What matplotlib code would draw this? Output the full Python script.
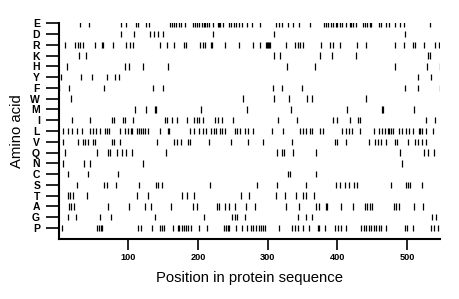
import matplotlib
matplotlib.use("Agg")
import matplotlib.pyplot as plt

plt.rcParams['font.family'] = ['Liberation Sans', 'DejaVu Sans']

amino_acids = ["E", "D", "R", "K", "H", "Y", "F", "W", "M", "I",
               "L", "V", "Q", "N", "C", "S", "T", "A", "G", "P"]

pos_E = [30.6, 43.5, 89.4, 96, 110.8, 114.2, 126, 129.6, 160, 162.7, 165.5, 169, 172, 175.5, 181,
         192.5, 195, 198, 201.7, 205.5, 208, 210, 212.7, 216, 221, 228, 230, 232, 235.5, 245, 248,
         251.5, 255, 259, 263.4, 269.6, 276.8, 288.7, 311.6, 316.4, 319.8, 329.4, 336.6, 345, 361.3,
         380.5, 383.4, 386.7, 391.5, 393.9, 397.7, 399.6, 403.4, 407.2, 412, 417.7, 420, 422.6, 426.4,
         436.9, 439.3, 442.6, 446.4, 448.8, 459.8, 463.2, 470.4, 474.2, 482.3, 489.5, 495.2, 532.4]
pos_D = [90, 108.5, 131, 136.6, 142.8, 150, 222, 309, 496.6]
pos_R = [9.6, 24, 28, 31, 35, 51.6, 62, 64, 78.4, 96.6, 102, 106, 145, 156, 166, 180, 182.6,
         202.7, 206.5, 210, 218, 220, 238.5, 259, 279, 289.5, 297, 298.7, 300, 301.7, 303, 326,
         339.4, 344, 346, 350.8, 377, 390, 394, 403.4, 428, 440.7, 482.8, 495, 508.6, 511.5, 525,
         540, 546]
pos_K = [29.6, 39, 309, 317, 374.6, 392, 427, 530, 532.6]
pos_H = [11.5, 94.6, 100.4, 121.4, 157, 327, 368, 482.8, 528.7, 546.8]
pos_Y = [3, 32, 47.8, 68.8, 80.8, 86, 515.8, 535]
pos_F = [1, 14.8, 65.5, 135.8, 150, 307, 320, 349, 497.6, 515.8, 546.8]
pos_W = [18, 265, 309, 330, 356.6, 364, 440.7]
pos_M = [110, 125, 138.6, 139.6, 203.6, 270.5, 333.6, 414.4, 464.6, 465.6, 509.5]
pos_I = [18.6, 45, 76, 80, 91.8, 95, 106, 152.5, 156, 162, 170, 183.6, 194.5, 198, 201, 207,
         225, 229, 235, 250, 315, 342, 394, 400, 418, 429, 432, 527, 540]
pos_L = [6.7, 13.9, 19.6, 26.3, 33, 45.4, 48.8, 53, 59.3, 66.4, 69.8, 72.7, 88.4, 95, 99, 103.7,
         105.6, 112, 115, 118, 121.4, 123.8, 128.6, 145.3, 156.3, 158.2, 188.3, 194.5, 201.2,
         206.5, 211.3, 218.4, 222.3, 226, 231.3, 234.6, 238.5, 252.8, 256.6, 260.4, 267, 271.8,
         279, 305.5, 322, 347, 350.8, 354.7, 360.4, 363.3, 374.8, 379.5, 407, 413, 416.8, 421.6,
         432, 452, 459.8, 464.6, 468, 472.3, 474, 477, 479.8, 488.4, 492.3, 499, 502.7, 508.6,
         517.2, 519, 522, 527.7, 537]
pos_V = [6.7, 28.2, 35.4, 37.8, 42.6, 49.8, 52, 76, 79.8, 88.4, 141, 166, 169.7, 175.5, 186, 188,
         215.6, 246.7, 272, 293.5, 334.6, 396.3, 399.6, 413, 445.5, 453.6, 458.4, 463.2, 470.4,
         482.8, 485.6, 501.4, 511, 515.8, 522, 527.7]
pos_Q = [9, 54.5, 71.2, 73.6, 83.2, 90.3, 96, 104.7, 154, 313.6, 319.8, 322.7, 335.6, 370,
         490.4, 523.9, 530.6, 538.2]
pos_N = [6.7, 36.8, 45, 120.5, 493.4]
pos_C = [12.9, 42.6, 84.6, 329.5, 331.9, 369]
pos_S = [25.8, 65.5, 68.8, 81.7, 115.7, 139.6, 142.9, 147.7, 217, 284.9, 313.6, 354.7, 397.7,
         403.4, 410.6, 416.8, 423.5, 428.3, 477.5, 499, 501.4, 504.8, 522]
pos_T = [12.9, 16.7, 20.6, 41, 111.9, 127.6, 176.4, 183.6, 194.6, 261.4, 273.4, 311.6, 324.5,
         340.3, 350.8, 354.7, 366]
pos_A = [15.3, 18.2, 21.5, 70.7, 101.3, 124.3, 131.9, 161.6, 193, 198, 226.6, 230.4, 239, 243.8,
         252.4, 268.6, 281.5, 326, 345, 370, 373.8, 383.4, 385.7, 405.8, 422.6, 439.3, 442.6,
         446.4, 450.3, 480.9, 483.7, 488.5, 509.5, 522.9]
pos_G = [12.9, 24.9, 58.8, 75, 138, 208.4, 248.6, 252.8, 256.2, 266.7, 344, 354.7, 363.3,
         535.4, 542]
pos_P = [5.3, 55.5, 57.8, 60.2, 62.1, 114.2, 118, 133.4, 145.3, 148.2, 151.5, 164.4, 170.6, 173,
         176.4, 179.2, 182.1, 185.5, 189.3, 201.2, 212.7, 237.6, 240, 242.3, 244.7, 254.3, 263.4,
         269.6, 275.3, 279.2, 283, 286.8, 289.7, 293.5, 295.9, 315.5, 334.6, 338.9, 343.7, 351.3,
         359.5, 372.4, 373.8, 381.9, 396.3, 401.5, 405.8, 413, 434.5, 437.8, 441.6, 445, 448.3,
         452.2, 456, 459.8, 463.2, 470.4, 496.7, 500, 508.6, 534.9, 538.7, 544.4]

positions = [pos_E, pos_D, pos_R, pos_K, pos_H, pos_Y, pos_F, pos_W, pos_M, pos_I,
             pos_L, pos_V, pos_Q, pos_N, pos_C, pos_S, pos_T, pos_A, pos_G, pos_P]

x_ticks = [100, 200, 300, 400, 500]

fig = plt.figure(figsize=(4.6, 2.99), dpi=100)
ax = fig.add_axes([0.1276, 0.2017, 0.830, 0.7203])

n = len(amino_acids)
offsets = [n - 1 - i for i in range(n)]
ax.eventplot(positions, lineoffsets=offsets, linelengths=0.6, linewidths=0.9, colors='black')

ax.set_xlim(0, 548)
ax.set_ylim(-1, n - 1)
ax.set_yticks(offsets)
ax.set_yticklabels(amino_acids, fontsize=7.5, fontweight='bold')
ax.set_xticks(x_ticks)
ax.set_xticklabels([str(t) for t in x_ticks], fontsize=6.6, fontweight='bold')
ax.tick_params(axis='y', length=9.4, width=1.2, pad=4)
ax.tick_params(axis='x', length=8, width=1.2, pad=2.5)

for s in ['top', 'right']:
    ax.spines[s].set_visible(False)
for s in ['left', 'bottom']:
    ax.spines[s].set_linewidth(1.5)
ax.spines['left'].set_bounds(-1, n - 1)

ax.set_xlabel("Position in protein sequence", fontsize=10.7, labelpad=6.5)
ax.set_ylabel("Amino acid", fontsize=10.7, labelpad=4.5)

fig.savefig("out.png", dpi=100)
